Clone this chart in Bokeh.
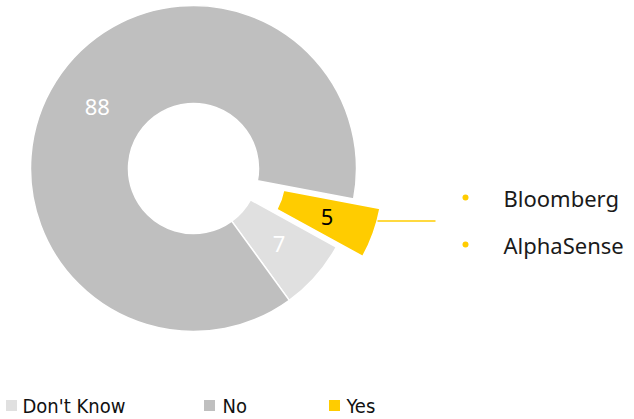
import numpy as np
from bokeh.plotting import figure
from bokeh.models import Range1d, ColumnDataSource
from bokeh.core.properties import value
from bokeh.embed import file_html
from bokeh.resources import INLINE

# ---- data ----
categories = ["Don't Know", "No", "Yes"]
values = [7, 88, 5]
colors = ["#e0e0e0", "#bfbfbf", "#ffcc00"]
label_colors = ["#ffffff", "#ffffff", "#000000"]
exploded = [False, False, True]
yes_sources = ["Bloomberg", "AlphaSense"]

# ---- layout ----
W, H = 634, 419
p = figure(width=W, height=H, x_range=Range1d(0, W), y_range=Range1d(0, H),
           output_backend="svg", toolbar_location=None, min_border=0)
p.axis.visible = False
p.grid.visible = False
p.outline_line_color = None
p.background_fill_color = "white"

cx, cy = 193, H - 168
r_in, r_out = 65, 163
first_angle = 118.8   # degrees clockwise from 12 o'clock
explode = 28
label_r = 114

total = float(sum(values))
a = np.radians(90 - first_angle)
xs, ys, starts, ends, lx, ly = [], [], [], [], [], []
for v, ex in zip(values, exploded):
    sweep = 2 * np.pi * v / total
    a0, a1 = a, a - sweep
    mid = (a0 + a1) / 2
    off = explode if ex else 0
    ox, oy = cx + off * np.cos(mid), cy + off * np.sin(mid)
    xs.append(ox); ys.append(oy)
    starts.append(a1); ends.append(a0)
    lx.append(ox + label_r * np.cos(mid)); ly.append(oy + label_r * np.sin(mid))
    a = a1

src = ColumnDataSource(dict(x=xs, y=ys, s=starts, e=ends, c=colors,
                            lx=lx, ly=ly, t=[str(v) for v in values], tc=label_colors))
p.annular_wedge(x="x", y="y", inner_radius=r_in, outer_radius=r_out,
                start_angle="s", end_angle="e", fill_color="c",
                line_color="white", line_width=1.5, source=src)
p.text(x="lx", y="ly", text="t", text_color="tc", text_font=value("Noto Sans"),
       text_font_size="22px", text_align="center", text_baseline="middle", source=src)

# leader line from Yes slice
p.line(x=[377, 435], y=[H - 220.5, H - 220.5], line_color="#ffcc00", line_width=1.5)

# Yes breakdown list
by = [H - 197, H - 244]
p.scatter(x=[465, 465], y=by, size=6, marker="circle", fill_color="#ffcc00", line_color=None)
p.text(x=[503, 503], y=by, text=yes_sources, text_font=value("Noto Sans"),
       text_font_size="22px", text_color="#1a1a1a", text_baseline="middle")

# legend
leg_x = [11, 209, 334]
leg_tx = [22, 222, 346]
leg_y = H - 405
p.scatter(x=leg_x, y=[leg_y] * 3, size=11, marker="square", fill_color=colors, line_color=None)
p.text(x=leg_tx, y=[leg_y] * 3, text=categories, text_font=value("DejaVu Sans Condensed"),
       text_font_size="20px", text_color="#111111", text_baseline="middle")

open("out.html", "w").write(file_html(p, INLINE))
